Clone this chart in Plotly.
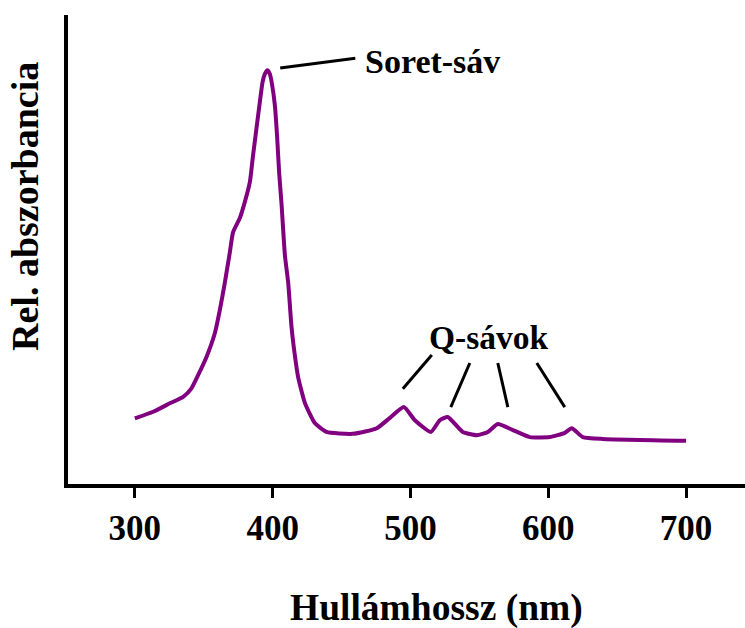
import plotly.graph_objects as go

# Absorption spectrum (relative units)
wavelength_nm = [300.0, 313.3, 325.4, 335.1, 341.1, 345.9, 352.0, 358.1, 361.7, 365.3,
                 369.0, 371.3, 376.2, 379.8, 383.5, 385.8, 388.3, 390.7, 392.7, 394.3,
                 396.2, 398.0, 399.4, 401.6, 403.3, 404.7, 406.5, 408.9, 411.3, 413.7,
                 416.1, 418.5, 423.4, 430.6, 439.1, 458.2, 475.6, 485.1, 495.2, 503.2,
                 514.8, 521.3, 527.1, 538.0, 548.2, 556.2, 563.4, 574.3, 586.6, 601.2,
                 612.0, 617.1, 625.1, 639.6, 700.0]
rel_absorbance = [0.140, 0.154, 0.172, 0.186, 0.204, 0.232, 0.271, 0.322, 0.371, 0.429,
                  0.495, 0.537, 0.567, 0.601, 0.644, 0.701, 0.759, 0.814, 0.857, 0.874,
                  0.882, 0.874, 0.855, 0.808, 0.738, 0.665, 0.595, 0.488, 0.429, 0.335,
                  0.275, 0.228, 0.173, 0.130, 0.111, 0.107, 0.119, 0.141, 0.164, 0.136,
                  0.111, 0.136, 0.143, 0.111, 0.104, 0.111, 0.128, 0.115, 0.100, 0.100,
                  0.109, 0.119, 0.100, 0.096, 0.092]

x_ticks = [300, 400, 500, 600, 700]

x_title = "Hullámhossz (nm)"
y_title = "Rel. abszorbancia"
soret_label = "Soret-sáv"
q_label = "Q-sávok"

FONT = "Liberation Serif, Times New Roman, serif"


def bold(size):
    return dict(family=FONT, size=size, color="black", weight="bold")


fig = go.Figure()
fig.add_trace(go.Scatter(
    x=wavelength_nm, y=rel_absorbance, mode="lines",
    line=dict(color="#800080", width=4, shape="spline", smoothing=0.5),
    hoverinfo="skip", showlegend=False,
))

# Leader lines for the band labels
soret_leader = [(405.5, 0.887, 460.0, 0.908)]
q_leaders = [
    (494.5, 0.203, 515.5, 0.275),
    (529.3, 0.164, 543.1, 0.258),
    (570.7, 0.164, 563.4, 0.258),
    (612.0, 0.164, 591.7, 0.258),
]
for x0, y0, x1, y1 in soret_leader + q_leaders:
    fig.add_shape(type="line", xref="x", yref="y", x0=x0, y0=y0, x1=x1, y1=y1,
                  line=dict(color="black", width=3))

fig.add_annotation(x=465.5, y=0.9, xref="x", yref="y", text=soret_label,
                   showarrow=False, xanchor="left", yanchor="middle", font=bold(34))
fig.add_annotation(x=556.9, y=0.313, xref="x", yref="y", text=q_label,
                   showarrow=False, xanchor="center", yanchor="middle", font=bold(33.5))

# Axis titles
fig.add_annotation(x=0.5436, y=-0.2644, xref="paper", yref="paper", text=x_title,
                   showarrow=False, xanchor="center", yanchor="middle", font=bold(37.5))
fig.add_annotation(x=-0.0628, y=0.5917, xref="paper", yref="paper", text=y_title,
                   textangle=-90, showarrow=False, xanchor="center", yanchor="middle",
                   font=bold(38))

fig.update_layout(
    width=745, height=628,
    margin=dict(l=68, r=0, t=15, b=144),
    paper_bgcolor="white", plot_bgcolor="white",
    font=dict(family=FONT, color="black"),
    xaxis=dict(
        range=[251.5, 742.8], tickvals=x_ticks, ticktext=[str(v) for v in x_ticks],
        ticks="outside", ticklen=10, tickwidth=3, tickcolor="black",
        showline=True, linewidth=4, linecolor="black",
        showgrid=False, zeroline=False, tickfont=bold(35),
    ),
    yaxis=dict(
        range=[0, 1], showticklabels=False, ticks="",
        showline=True, linewidth=4, linecolor="black",
        showgrid=False, zeroline=False,
    ),
)

fig.write_html("out.html")
